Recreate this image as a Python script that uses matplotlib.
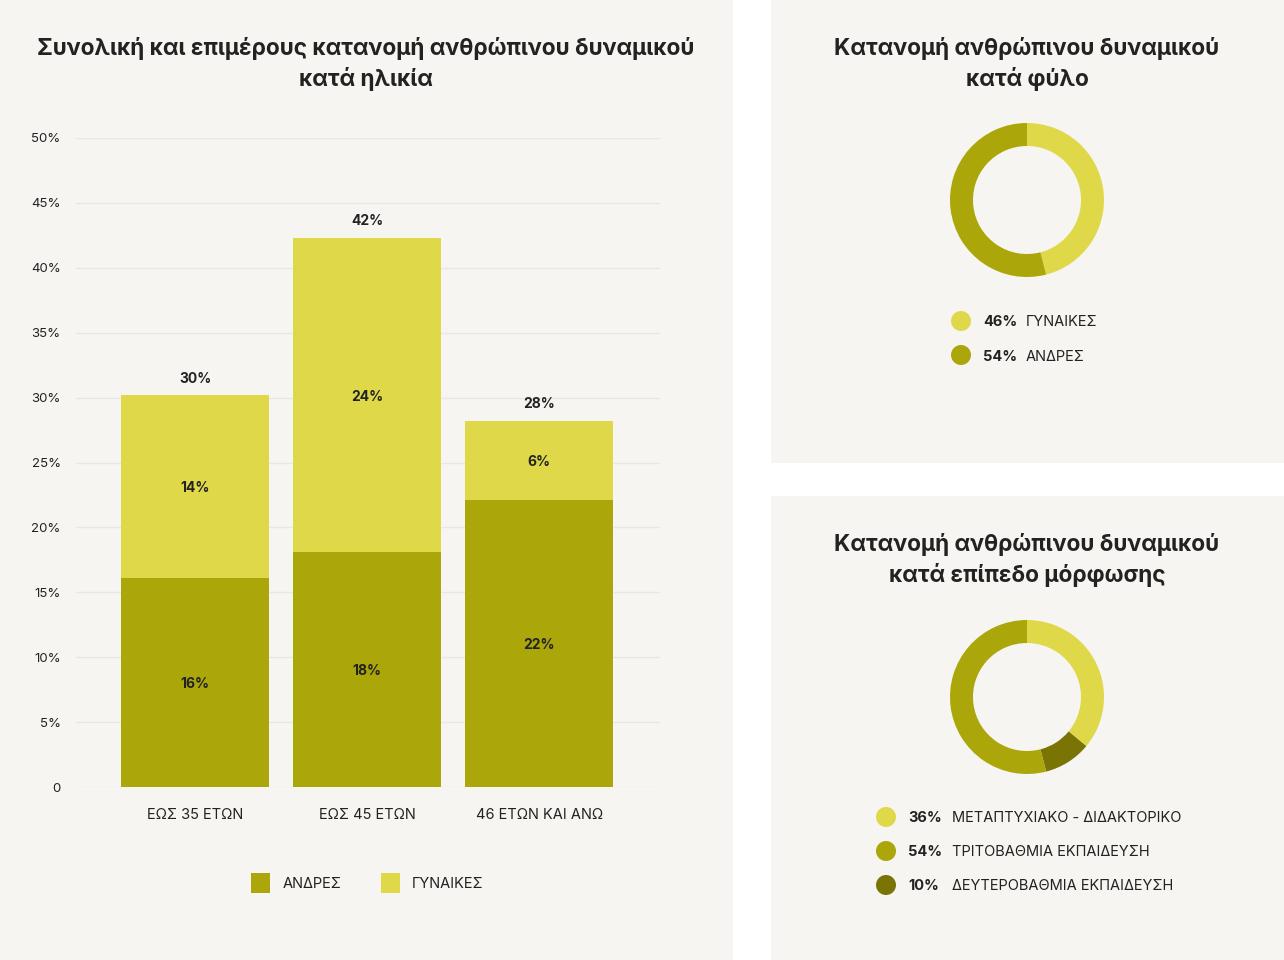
import matplotlib
matplotlib.use("Agg")
import matplotlib.pyplot as plt
from matplotlib.patches import Rectangle, Ellipse

plt.rcParams['font.family'] = ['Inter', 'DejaVu Sans']

# ---- data ----
age_groups = ["ΕΩΣ 35 ΕΤΩΝ", "ΕΩΣ 45 ΕΤΩΝ", "46 ΕΤΩΝ ΚΑΙ ΑΝΩ"]
men = [16.1, 18.1, 22.1]
women = [14.1, 24.2, 6.1]
yticks = [0, 5, 10, 15, 20, 25, 30, 35, 40, 45, 50]
ytick_labels = ["0", "5%", "10%", "15%", "20%", "25%", "30%", "35%", "40%", "45%", "50%"]
series_names = ["ΑΝΔΡΕΣ", "ΓΥΝΑΙΚΕΣ"]

gender_labels = ["ΓΥΝΑΙΚΕΣ", "ΑΝΔΡΕΣ"]
gender_values = [46, 54]

edu_labels = ["ΜΕΤΑΠΤΥΧΙΑΚΟ - ΔΙΔΑΚΤΟΡΙΚΟ", "ΤΡΙΤΟΒΑΘΜΙΑ ΕΚΠΑΙΔΕΥΣΗ", "ΔΕΥΤΕΡΟΒΑΘΜΙΑ ΕΚΠΑΙΔΕΥΣΗ"]
edu_values = [36, 54, 10]

# ---- style ----
BG = "#f7f5f2"
C_MED = "#aba609"
C_LIGHT = "#dfd94a"
C_DARK = "#7a7404"
TXT = "#222222"
GRID = "#e9e7e3"

W, H = 1284, 960
fig = plt.figure(figsize=(W / 100, H / 100), dpi=100)
fig.patch.set_facecolor("white")


def fx(x):
    return x / W


def fy(y):
    return 1 - y / H


# panels
for (x0, y0, x1, y1) in [(0, 0, 733, 960), (771, 0, 1284, 463), (771, 496, 1284, 960)]:
    fig.add_artist(Rectangle((fx(x0), fy(y1)), fx(x1 - x0), (y1 - y0) / H,
                             transform=fig.transFigure, facecolor=BG, edgecolor="none", zorder=0))

# ---- bar chart ----
ax = fig.add_axes([fx(76), fy(787), fx(660 - 76), (787 - 138) / H])
ax.set_facecolor("none")
xs = list(range(len(age_groups)))
bw = 148 / 172
ax.bar(xs, men, width=bw, color=C_MED, zorder=3)
ax.bar(xs, women, width=bw, bottom=men, color=C_LIGHT, zorder=3)
ax.set_xlim(-0.692, 2.703)
ax.set_ylim(0, 50)
ax.set_yticks(yticks)
ax.set_yticklabels(ytick_labels)
ax.set_xticks(xs)
ax.set_xticklabels(age_groups)
ax.tick_params(axis="y", length=0, pad=11, labelsize=9.5, labelcolor=TXT)
ax.tick_params(axis="x", length=0, pad=15, labelsize=10.5, labelcolor=TXT)
for lab in ax.get_yticklabels():
    lab.set_va("center_baseline")
for s in ax.spines.values():
    s.set_visible(False)
ax.grid(axis="y", color=GRID, linewidth=1, zorder=0)
ax.set_axisbelow(True)

for i in xs:
    m, w = men[i], women[i]
    ax.text(i, m / 2, f"{round(m)}%", ha="center", va="center_baseline", fontsize=10, fontweight="bold", color=TXT, zorder=4)
    ax.text(i, m + w / 2, f"{round(w)}%", ha="center", va="center_baseline", fontsize=10, fontweight="bold", color=TXT, zorder=4)
    ax.annotate(f"{round(m + w)}%", (i, m + w), xytext=(0, 18), textcoords="offset pixels",
                ha="center", va="center_baseline", fontsize=10, fontweight="bold", color=TXT)

# legend for bar chart
for (sx, tx, col, name) in [(251, 283, C_MED, series_names[0]), (381, 412, C_LIGHT, series_names[1])]:
    fig.add_artist(Rectangle((fx(sx), fy(893)), fx(19), 20 / H, transform=fig.transFigure,
                             facecolor=col, edgecolor="none"))
    fig.text(fx(tx), fy(883), name, ha="left", va="center_baseline", fontsize=10.5, color=TXT)

fig.text(fx(366), fy(64), "Συνολική και επιμέρους κατανομή ανθρώπινου δυναμικού\nκατά ηλικία",
         ha="center", va="center", fontsize=16.3, fontweight="bold", color=TXT, linespacing=1.4)

# ---- donuts ----
def donut(cx, cy, values, colors):
    half = 80
    a = fig.add_axes([fx(cx - half), fy(cy + half), fx(2 * half), 2 * half / H])
    a.pie(values, colors=colors, startangle=90, counterclock=False, radius=77 / half,
          wedgeprops=dict(width=23 / half, edgecolor="none"))
    a.set_xlim(-1, 1)
    a.set_ylim(-1, 1)
    a.set_aspect("equal")
    a.axis("off")


def circle_legend(x_c, x_p, x_l, ys, values, labels, colors):
    for y, v, lab, col in zip(ys, values, labels, colors):
        fig.add_artist(Ellipse((fx(x_c), fy(y)), 20 / W, 20 / H, transform=fig.transFigure,
                               facecolor=col, edgecolor="none"))
        fig.text(fx(x_p), fy(y), f"{v}%", ha="left", va="center_baseline", fontsize=10.5, fontweight="bold", color=TXT)
        fig.text(fx(x_l), fy(y), lab, ha="left", va="center_baseline", fontsize=10.5, color=TXT)


fig.text(fx(1027), fy(64), "Κατανομή ανθρώπινου δυναμικού\nκατά φύλο",
         ha="center", va="center", fontsize=16.3, fontweight="bold", color=TXT, linespacing=1.4)
donut(1027, 200, gender_values, [C_LIGHT, C_MED])
circle_legend(961, 983, 1026, [321, 355], gender_values, gender_labels, [C_LIGHT, C_MED])

fig.text(fx(1027), fy(560), "Κατανομή ανθρώπινου δυναμικού\nκατά επίπεδο μόρφωσης",
         ha="center", va="center", fontsize=16.3, fontweight="bold", color=TXT, linespacing=1.4)
# drawing order clockwise from top: 36% light, 10% dark, 54% medium
edu_order = [0, 2, 1]
edu_colors = [C_LIGHT, C_MED, C_DARK]
donut(1027, 697, [edu_values[i] for i in edu_order], [edu_colors[i] for i in edu_order])
circle_legend(886, 908, 952, [817, 851, 885], edu_values, edu_labels, edu_colors)

fig.savefig("out.png", dpi=100, facecolor=fig.get_facecolor())
